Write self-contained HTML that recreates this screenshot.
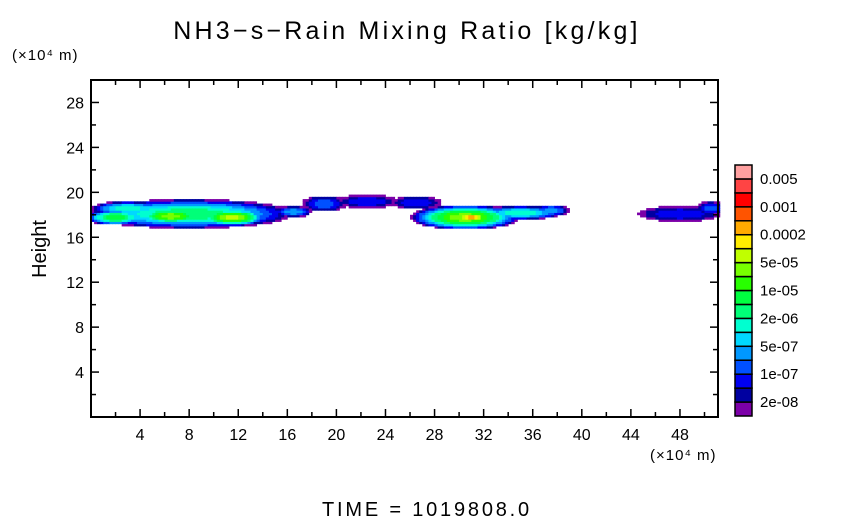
<!DOCTYPE html>
<html><head><meta charset="utf-8"><style>
body{margin:0;background:#fff;}
svg{display:block;font-family:"Liberation Sans",sans-serif;}
</style></head><body>
<svg id="chart" width="854" height="519" viewBox="0 0 854 519">
<rect width="854" height="519" fill="#fff"/>
<text x="407" y="39" font-size="25" text-anchor="middle" letter-spacing="3.2">NH3−s−Rain Mixing Ratio [kg/kg]</text>
<text x="12" y="60" font-size="15" letter-spacing="1">(×10⁴ m)</text>
<text x="650" y="460" font-size="15" letter-spacing="1">(×10⁴ m)</text>
<text transform="translate(46,249) rotate(-90)" font-size="20" text-anchor="middle">Height</text>
<text x="427" y="516" font-size="20" text-anchor="middle" letter-spacing="2.8">TIME = 1019808.0</text>
<g id="cells"></g>
<g id="axes"></g>
<g id="cbar"></g>
</svg>
<script>
const xTicks=[4,8,12,16,20,24,28,32,36,40,44,48];
const yTicks=[4,8,12,16,20,24,28];
const cbarLabels=["0.005","0.001","0.0002","5e-05","1e-05","2e-06","5e-07","1e-07","2e-08"];
const colors=["#7c00a8","#0000a0","#0000f0","#0050ff","#0098ff","#00d8ff","#00ffd0","#00ff78","#00ff40","#28ff00","#78ff00","#c0ff00","#ffec00","#ffaa00","#ff5400","#ff0000","#ff4444","#ffa0a0"];
// blobs: center x, center y, radius x, radius y, peak level
const blobX=[8,6.5,11.5,3,16.5,19,22.5,30.5,31,35,48,50.5,26.5,37.5,2];
const blobY=[18.1,17.9,17.8,18.6,18.3,19.0,19.2,17.8,17.8,18.2,18.1,18.6,19.1,18.4,17.8];
const blobRX=[8.5,2.8,2.8,3,1.5,1.8,2.5,4.5,1.5,3.5,3.5,1.2,2,1.5,2.5];
const blobRY=[1.3,0.7,0.8,0.6,0.5,0.7,0.6,1.1,0.4,0.6,0.7,0.6,0.6,0.5,0.7];
const blobPeak=[8,11,11.5,7,5,4,3,11,14.5,7,3,4,3,5,9];

const X0=91,X1=718,XMAX=51.1,Y0=417,Y1=80,YMAX=30;
const sx=v=>X0+(X1-X0)*v/XMAX, sy=v=>Y0-(Y0-Y1)*v/YMAX;
const NS="http://www.w3.org/2000/svg";
function mk(t,a,p){const e=document.createElementNS(NS,t);for(const k in a)e.setAttribute(k,a[k]);p.appendChild(e);return e;}
const cells=document.getElementById('cells');
const dx=0.25,dy=0.2;
for(let x=0;x<XMAX;x+=dx){for(let y=15;y<21;y+=dy){
  let v=-1;
  for(let i=0;i<blobX.length;i++){
    const d2=((x+dx/2-blobX[i])/blobRX[i])**2+((y+dy/2-blobY[i])/blobRY[i])**2;
    if(d2<1){const lv=blobPeak[i]*(1-d2);if(lv>v)v=lv;}
  }
  if(v>=0){const r=mk('rect',{x:sx(x),y:sy(y+dy),width:sx(dx)-sx(0)+0.4,height:sy(0)-sy(dy)+0.4,fill:colors[Math.min(17,Math.floor(v))]},cells);
    
    }
}}
const ax=document.getElementById('axes');
mk('rect',{x:X0,y:Y1,width:X1-X0,height:Y0-Y1,fill:'none',stroke:'#000','stroke-width':2},ax);
for(let v=2;v<XMAX;v+=2){const L=v%4==0?8:5;
  mk('line',{x1:sx(v),x2:sx(v),y1:Y0,y2:Y0-L,stroke:'#000','stroke-width':1.5},ax);
  mk('line',{x1:sx(v),x2:sx(v),y1:Y1,y2:Y1+L,stroke:'#000','stroke-width':1.5},ax);}
for(let v=2;v<YMAX;v+=2){const L=v%4==0?8:5;
  mk('line',{x1:X0,x2:X0+L,y1:sy(v),y2:sy(v),stroke:'#000','stroke-width':1.5},ax);
  mk('line',{x1:X1,x2:X1-L,y1:sy(v),y2:sy(v),stroke:'#000','stroke-width':1.5},ax);}
xTicks.forEach(v=>{const t=mk('text',{x:sx(v),y:440,'font-size':16,'text-anchor':'middle'},ax);t.textContent=v;
  
  });
yTicks.forEach(v=>{const t=mk('text',{x:84,y:sy(v)+6,'font-size':16,'text-anchor':'end'},ax);t.textContent=v;
  
  });
const cb=document.getElementById('cbar');
const CX=735,CW=17,CT=165,CB=416,seg=(CB-CT)/colors.length;
colors.forEach((c,i)=>{const r=mk('rect',{x:CX,y:CB-(i+1)*seg,width:CW,height:seg,fill:c,stroke:'#000','stroke-width':1.5},cb);
  
  });
cbarLabels.forEach((l,i)=>{const t=mk('text',{x:760,y:CT+seg*(1+2*i)+5,'font-size':15},cb);t.textContent=l;
  
  });
</script>
</body></html>
